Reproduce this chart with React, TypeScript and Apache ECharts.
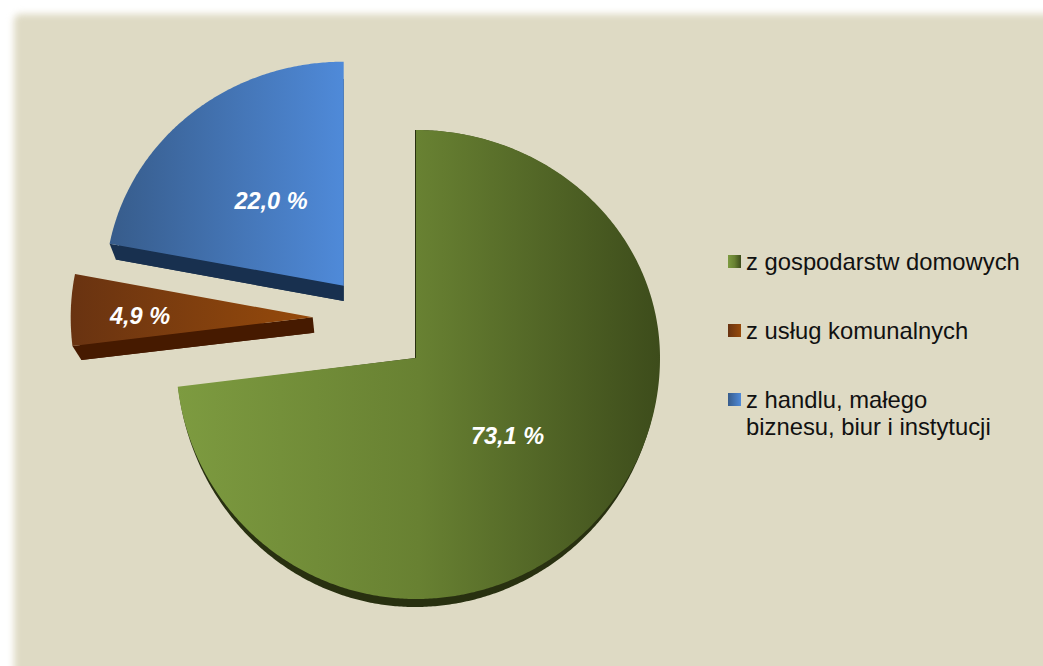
import React, { useEffect, useRef } from "react";
import * as echarts from "echarts";

const categories = [
  "z gospodarstw domowych",
  "z usług komunalnych",
  "z handlu, małego\nbiznesu, biur i instytucji",
];
const values = [73.1, 4.9, 22.0];
const valueLabels = ["73,1 %", "4,9 %", "22,0 %"];

const FONT = "'Liberation Sans', Arial, sans-serif";
const PANEL = "#dedac4";

const greenStops = ["#7d9b40", "#688132", "#3d4c1b"];
const brownStops = ["#693311", "#964a0b"];
const blueStops = ["#375c8b", "#4f8ad9"];

// Layout of each exploded slice (the source is a perspective pie, so radii differ per quadrant)
const sliceStyles = [
  {
    apex: [416, 358], rx: [244, 240], ry: [228, 241],
    sideApex: [415, 358], sideRx: [244, 238.5], sideRy: [228, 249],
    grad: greenStops, side: "#283010", label: [507.5, 436],
  },
  {
    apex: [312.7, 317.3], rx: [242, 242], ry: [231, 240],
    sideApex: [314.3, 332.7], sideRx: [234.6, 234.6], sideRy: [225, 229],
    grad: brownStops, side: "#461a00", label: [140, 316],
  },
  {
    apex: [343.7, 285.7], rx: [238.3, 238.3], ry: [224, 224],
    sideApex: [343.7, 301], sideRx: [232, 232], sideRy: [222, 222],
    grad: blueStops, side: "#18304f", label: [271, 201],
  },
];
const legendTops = [248, 317, 359];

const gradient = (c: string[]) =>
  new echarts.graphic.LinearGradient(
    0, 0, 1, 0,
    c.map((color, i) => ({ offset: i / (c.length - 1), color }))
  );

const wedge = (
  apex: number[], rx: number[], ry: number[], from: number, to: number
) => {
  const pts: number[][] = [[apex[0], apex[1]]];
  const steps = Math.max(8, Math.ceil((to - from) * 2));
  for (let i = 0; i <= steps; i++) {
    const t = ((from + ((to - from) * i) / steps) * Math.PI) / 180;
    const s = Math.sin(t);
    const c = Math.cos(t);
    pts.push([
      apex[0] + s * (s >= 0 ? rx[0] : rx[1]),
      apex[1] - c * (c >= 0 ? ry[0] : ry[1]),
    ]);
  }
  return pts;
};

export default function App() {
  const ref = useRef<HTMLDivElement>(null);

  useEffect(() => {
    const chart = echarts.init(ref.current!, null, { renderer: "svg" });
    const total = values.reduce((a, b) => a + b, 0);
    let acc = 0;
    const spans = values.map((v) => {
      const from = (acc / total) * 360;
      acc += v;
      return [from, (acc / total) * 360];
    });

    chart.setOption({
      animation: false,
      backgroundColor: "transparent",
      legend: categories.map((name, i) => ({
        left: 728,
        top: legendTops[i],
        orient: "vertical",
        padding: 0,
        icon: "rect",
        itemWidth: 13,
        itemHeight: 13,
        selectedMode: false,
        formatter: (n: string) => (n.includes("\n") ? "\n" + n : n),
        textStyle: { fontFamily: FONT, fontSize: 23.8, lineHeight: 27, color: "#111111" },
        data: [{ name, itemStyle: { color: gradient(sliceStyles[i].grad) } }],
      })),
      series: categories.map((name, i) => ({
        type: "custom",
        name,
        coordinateSystem: "none",
        silent: true,
        z: i === 0 ? 3 : 2,
        itemStyle: { color: sliceStyles[i].grad[0] },
        data: [[values[i]]],
        renderItem: () => {
          const st = sliceStyles[i];
          const [from, to] = spans[i];
          const top = wedge(st.apex, st.rx, st.ry, from, to);
          const side = wedge(st.sideApex, st.sideRx, st.sideRy, from, to);
          return {
            type: "group",
            children: [
              {
                type: "polygon",
                shape: { points: side },
                style: { fill: st.side },
              },
              {
                // bevel joining the top face's leading radius to the side face
                type: "polygon",
                shape: { points: [top[0], top[1], side[1], side[0]] },
                style: { fill: st.side },
              },
              {
                type: "polygon",
                shape: { points: top },
                style: { fill: gradient(st.grad) },
              },
              {
                type: "text",
                x: st.label[0],
                y: st.label[1],
                style: {
                  text: valueLabels[i],
                  fill: "#ffffff",
                  font: `italic bold 23.5px ${FONT}`,
                  align: "center",
                  verticalAlign: "middle",
                },
              },
            ],
          };
        },
      })),
    });
    return () => chart.dispose();
  }, []);

  return (
    <div
      style={{
        position: "fixed", left: 0, top: 0, width: 1043, height: 666,
        overflow: "hidden", background: "#ffffff",
      }}
    >
      <div
        style={{
          position: "absolute", left: 14, top: 14, width: 1100, height: 720,
          borderRadius: 6, background: PANEL, filter: "blur(3.5px)",
        }}
      />
      <div
        ref={ref}
        style={{ position: "absolute", left: 0, top: 0, width: 1043, height: 666 }}
      />
    </div>
  );
}
